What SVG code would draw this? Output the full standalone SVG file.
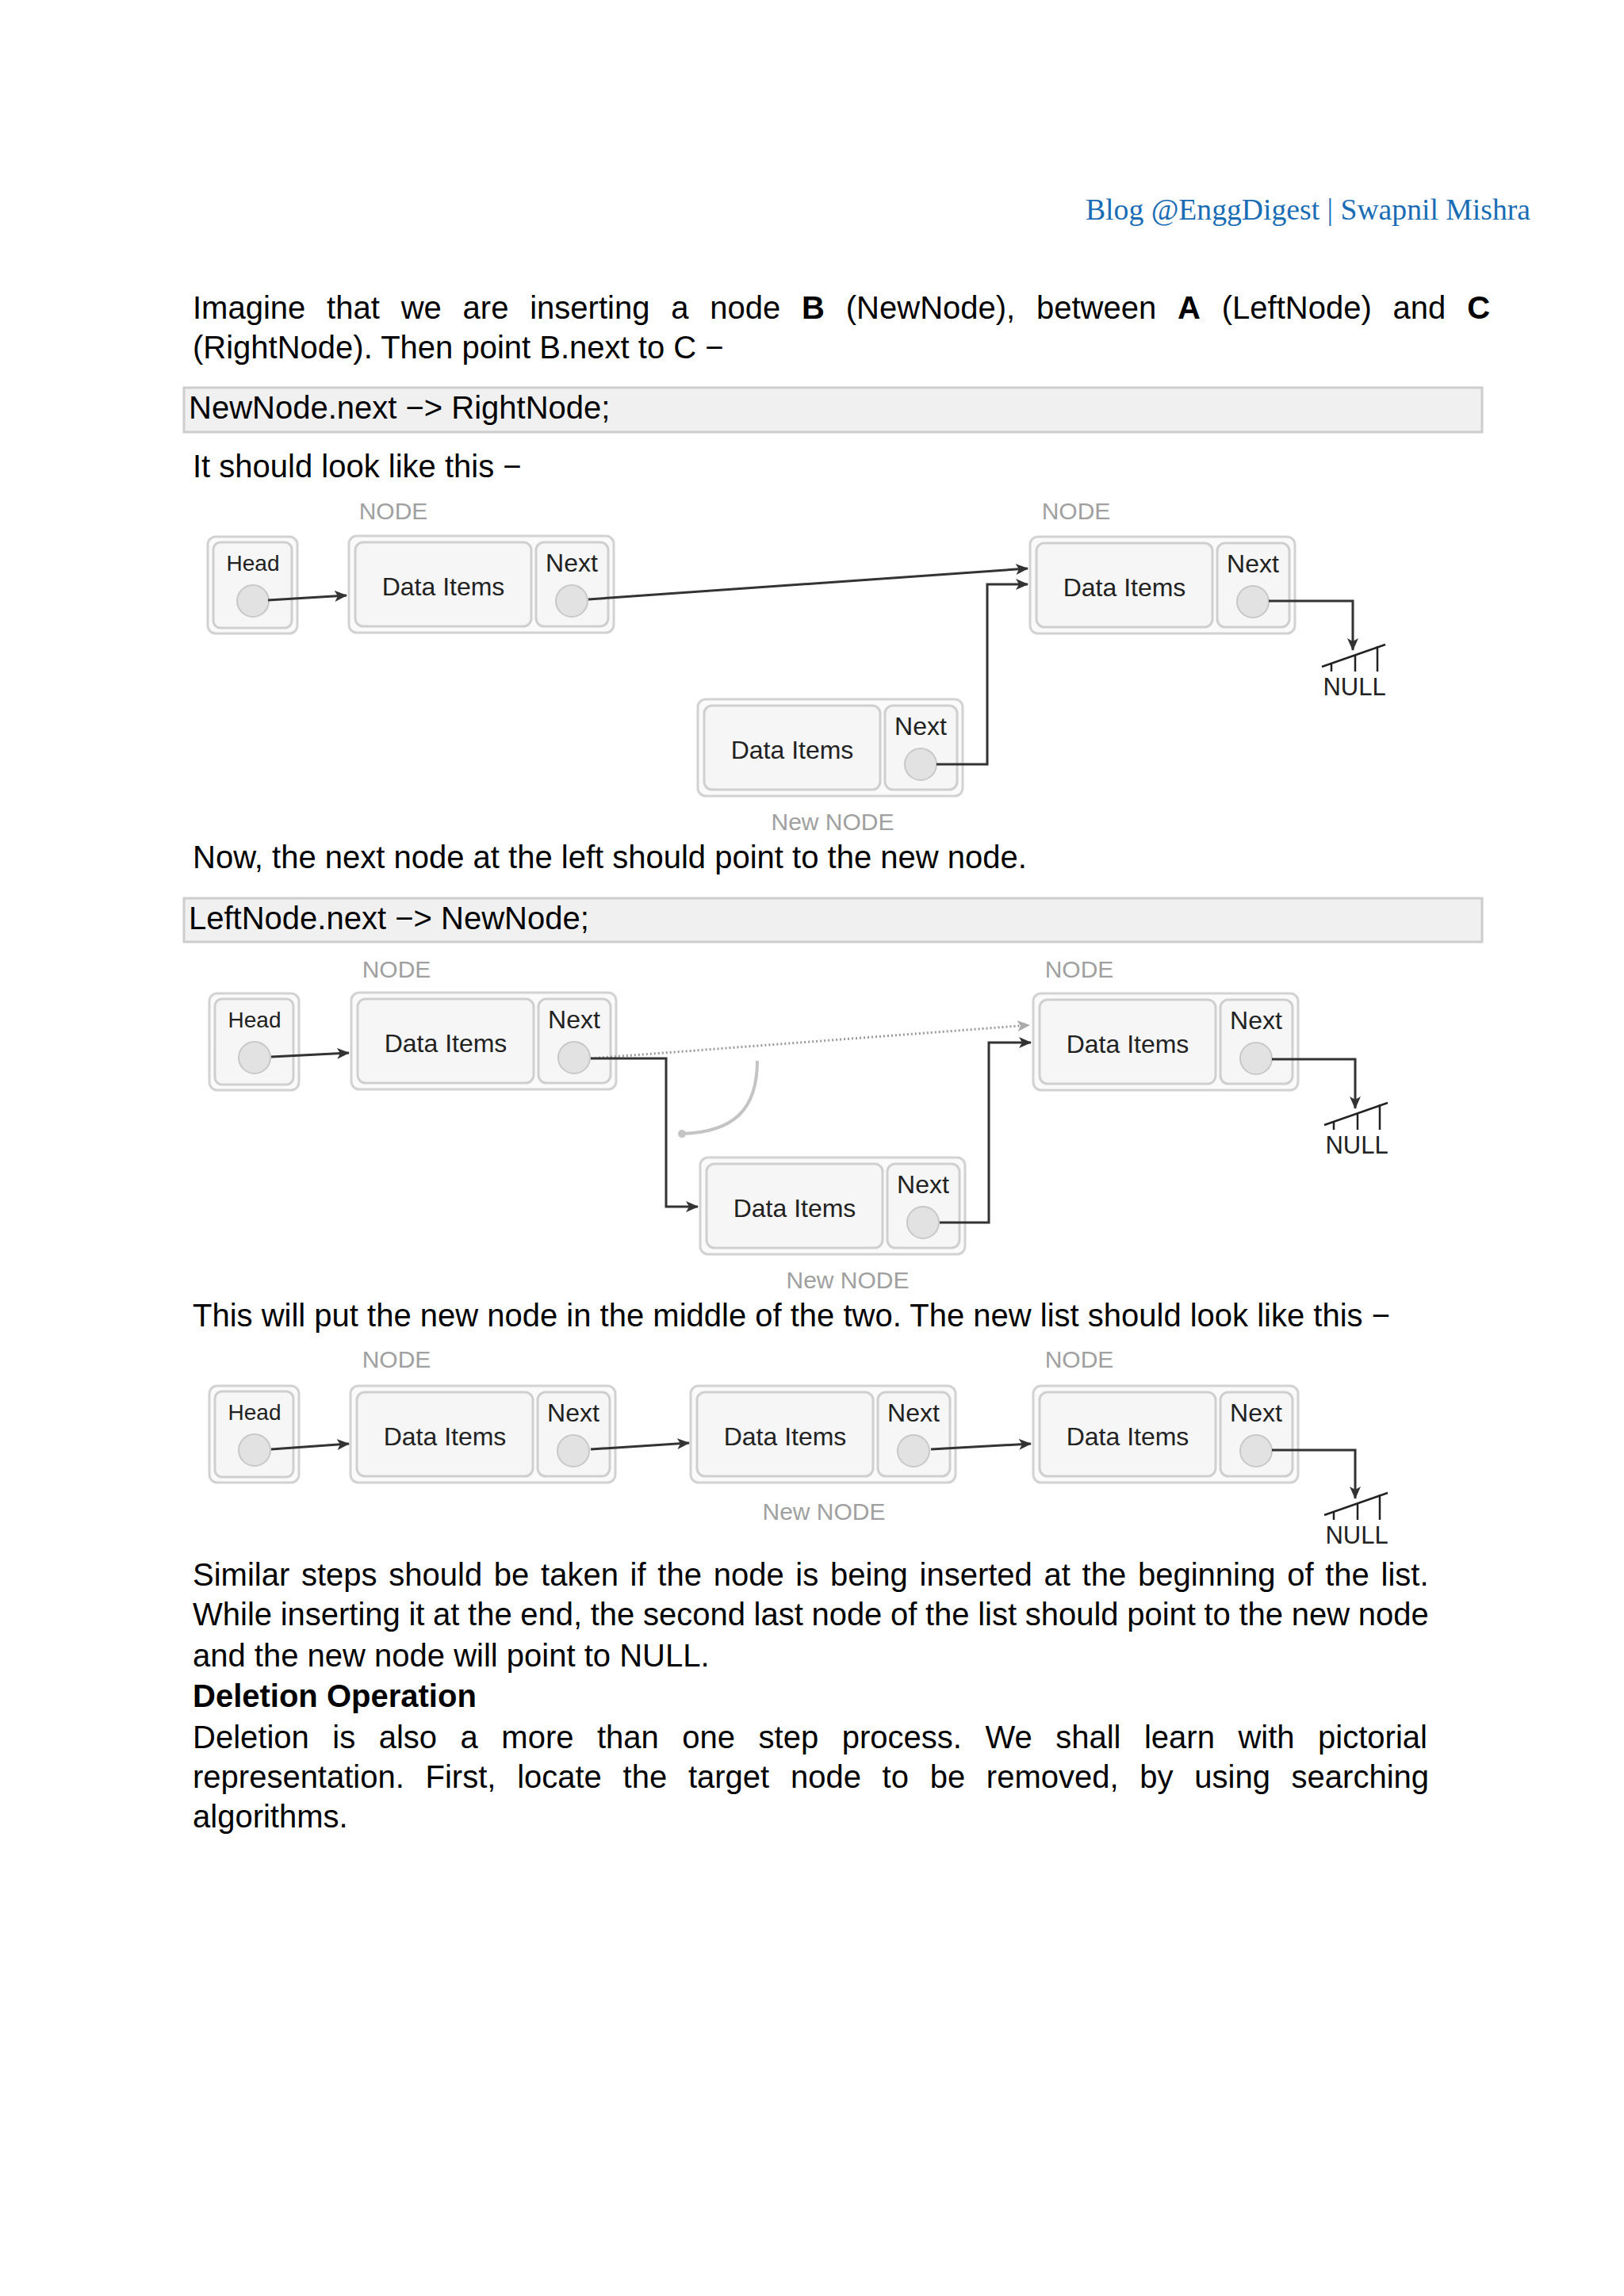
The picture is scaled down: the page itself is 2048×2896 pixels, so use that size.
<svg xmlns="http://www.w3.org/2000/svg" width="2048" height="2896" viewBox="0 0 2048 2896">
<defs>
<style>
.body{font-family:"Liberation Sans",Arial,sans-serif;font-size:40px;fill:#000}
.b{font-weight:bold}
.hdr{font-family:"Liberation Serif","DejaVu Serif",serif;font-size:37px;fill:#1a6db5}
.code{fill:#f0f0f1;stroke:#cdcdcd;stroke-width:3}
.outer{fill:#fafafa;stroke:#d2d2d2;stroke-width:3}
.inner{fill:#f6f6f7;stroke:#cfcfcf;stroke-width:3}
.dot{fill:#e2e2e2;stroke:#c8c8c8;stroke-width:2}
.lbl{font-family:"Liberation Sans",Arial,sans-serif;fill:#222;text-anchor:middle}
.cap{font-family:"Liberation Sans",Arial,sans-serif;font-size:30px;fill:#a0a0a0;text-anchor:middle}
.ln{fill:none;stroke:#333;stroke-width:3}
.dotted{fill:none;stroke:#9a9a9a;stroke-width:3;stroke-dasharray:2 3}
.curve{fill:none;stroke:#c4c4c4;stroke-width:4}
.nul{fill:none;stroke:#222;stroke-width:2.5}
</style>
<marker id="ah" markerWidth="16" markerHeight="14" refX="15" refY="7" orient="auto" markerUnits="userSpaceOnUse">
<path d="M0,0 L16,7 L0,14 L4,7 Z" fill="#333"/>
</marker>
<marker id="ahg" markerWidth="16" markerHeight="14" refX="15" refY="7" orient="auto" markerUnits="userSpaceOnUse">
<path d="M0,0 L16,7 L0,14 L4,7 Z" fill="#aaa"/>
</marker>
<marker id="ahc" markerWidth="14" markerHeight="14" refX="7" refY="7" orient="auto" markerUnits="userSpaceOnUse">
<circle cx="7" cy="7" r="5" fill="#c4c4c4"/>
</marker>
<g id="headT">
<rect class="outer" x="0" y="0" width="113" height="122" rx="10"/>
<rect class="inner" x="7" y="7" width="99" height="108" rx="9"/>
<text class="lbl" x="57" y="43" font-size="28">Head</text>
<circle class="dot" cx="57" cy="81" r="20"/>
</g>
<g id="nodeT">
<rect class="outer" x="0" y="0" width="334" height="122" rx="10"/>
<rect class="inner" x="8" y="8" width="222" height="106" rx="10"/>
<rect class="inner" x="236" y="8" width="91" height="106" rx="10"/>
<text class="lbl" x="119" y="75" font-size="32">Data Items</text>
<text class="lbl" x="281" y="45" font-size="32">Next</text>
<circle class="dot" cx="281" cy="82" r="20"/>
</g>
<g id="nullT">
<path class="nul" d="M-39,21 L41,-7 M-27,17 L-27,27 M3,7 L3,27 M31,-5 L31,27"/>
<text class="lbl" x="2" y="57" font-size="31">NULL</text>
</g>
</defs>
<rect width="2048" height="2896" fill="#fff"/>

<text class="hdr" x="1369" y="277" textLength="561" lengthAdjust="spacingAndGlyphs">Blog @EnggDigest | Swapnil Mishra</text>

<text class="body" x="243" y="402" word-spacing="15.7">Imagine that we are inserting a node <tspan class="b">B</tspan> (NewNode), between <tspan class="b">A</tspan> (LeftNode) and <tspan class="b">C</tspan></text>
<text class="body" x="243" y="452">(RightNode). Then point B.next to C −</text>
<rect class="code" x="232" y="489" width="1637" height="56"/>
<text class="body" x="238" y="528">NewNode.next −&gt; RightNode;</text>
<text class="body" x="243" y="602">It should look like this −</text>

<!-- Diagram 1 -->
<g id="d1-labels">
<text class="cap" x="496" y="655">NODE</text>
<text class="cap" x="1357" y="655">NODE</text>
<text class="cap" x="1050" y="1047">New NODE</text>
</g>
<g id="d1-head"><use href="#headT" x="262" y="677"/></g>
<g id="d1-nodeA"><use href="#nodeT" x="440" y="676"/></g>
<g id="d1-nodeC"><use href="#nodeT" x="1299" y="677"/></g>
<g id="d1-newnode"><use href="#nodeT" x="880" y="882"/></g>
<g id="d1-null"><use href="#nullT" x="1706" y="820"/></g>
<g id="d1-connectors">
<path class="ln" d="M338,757 L437,751" marker-end="url(#ah)"/>
<path class="ln" d="M742,756 L1296,717" marker-end="url(#ah)"/>
<path class="ln" d="M1181,964 L1245,964 L1245,737 L1296,737" marker-end="url(#ah)"/>
<path class="ln" d="M1600,758 L1706,758 L1706,820" marker-end="url(#ah)"/>
</g>

<text class="body" x="243" y="1095">Now, the next node at the left should point to the new node.</text>
<rect class="code" x="232" y="1133" width="1637" height="55"/>
<text class="body" x="238" y="1172">LeftNode.next −&gt; NewNode;</text>

<!-- Diagram 2 -->
<g id="d2-labels">
<text class="cap" x="500" y="1233">NODE</text>
<text class="cap" x="1361" y="1233">NODE</text>
<text class="cap" x="1069" y="1625">New NODE</text>
</g>
<g id="d2-head"><use href="#headT" x="264" y="1253"/></g>
<g id="d2-nodeA"><use href="#nodeT" x="443" y="1252"/></g>
<g id="d2-nodeC"><use href="#nodeT" x="1303" y="1253"/></g>
<g id="d2-newnode"><use href="#nodeT" x="883" y="1460"/></g>
<g id="d2-null"><use href="#nullT" x="1709" y="1398"/></g>
<g id="d2-connectors">
<path class="ln" d="M342,1333 L440,1328" marker-end="url(#ah)"/>
<path class="dotted" d="M745,1335 L1298,1293" marker-end="url(#ahg)"/>
<path class="ln" d="M745,1335 L840,1335 L840,1522 L880,1522" marker-end="url(#ah)"/>
<path class="curve" d="M955,1338 C955,1400 925,1428 860,1430" marker-end="url(#ahc)"/>
<path class="ln" d="M1185,1542 L1247,1542 L1247,1315 L1300,1315" marker-end="url(#ah)"/>
<path class="ln" d="M1604,1336 L1709,1336 L1709,1398" marker-end="url(#ah)"/>
</g>

<text class="body" x="243" y="1673">This will put the new node in the middle of the two. The new list should look like this −</text>

<!-- Diagram 3 -->
<g id="d3-labels">
<text class="cap" x="500" y="1725">NODE</text>
<text class="cap" x="1361" y="1725">NODE</text>
<text class="cap" x="1039" y="1917">New NODE</text>
</g>
<g id="d3-head"><use href="#headT" x="264" y="1748"/></g>
<g id="d3-nodeA"><use href="#nodeT" x="442" y="1748"/></g>
<g id="d3-newnode"><use href="#nodeT" x="871" y="1748"/></g>
<g id="d3-nodeC"><use href="#nodeT" x="1303" y="1748"/></g>
<g id="d3-null"><use href="#nullT" x="1709" y="1890"/></g>
<g id="d3-connectors">
<path class="ln" d="M342,1828 L440,1821" marker-end="url(#ah)"/>
<path class="ln" d="M745,1828 L869,1820" marker-end="url(#ah)"/>
<path class="ln" d="M1174,1828 L1300,1821" marker-end="url(#ah)"/>
<path class="ln" d="M1604,1829 L1709,1829 L1709,1890" marker-end="url(#ah)"/>
</g>

<text class="body" x="243" y="2000" word-spacing="3.6">Similar steps should be taken if the node is being inserted at the beginning of the list.</text>
<text class="body" x="243" y="2050" word-spacing="-0.5">While inserting it at the end, the second last node of the list should point to the new node</text>
<text class="body" x="243" y="2102">and the new node will point to NULL.</text>
<text class="body b" x="243" y="2153">Deletion Operation</text>
<text class="body" x="243" y="2205" word-spacing="18.4">Deletion is also a more than one step process. We shall learn with pictorial</text>
<text class="body" x="243" y="2255" word-spacing="15.6">representation. First, locate the target node to be removed, by using searching</text>
<text class="body" x="243" y="2305">algorithms.</text>
</svg>
